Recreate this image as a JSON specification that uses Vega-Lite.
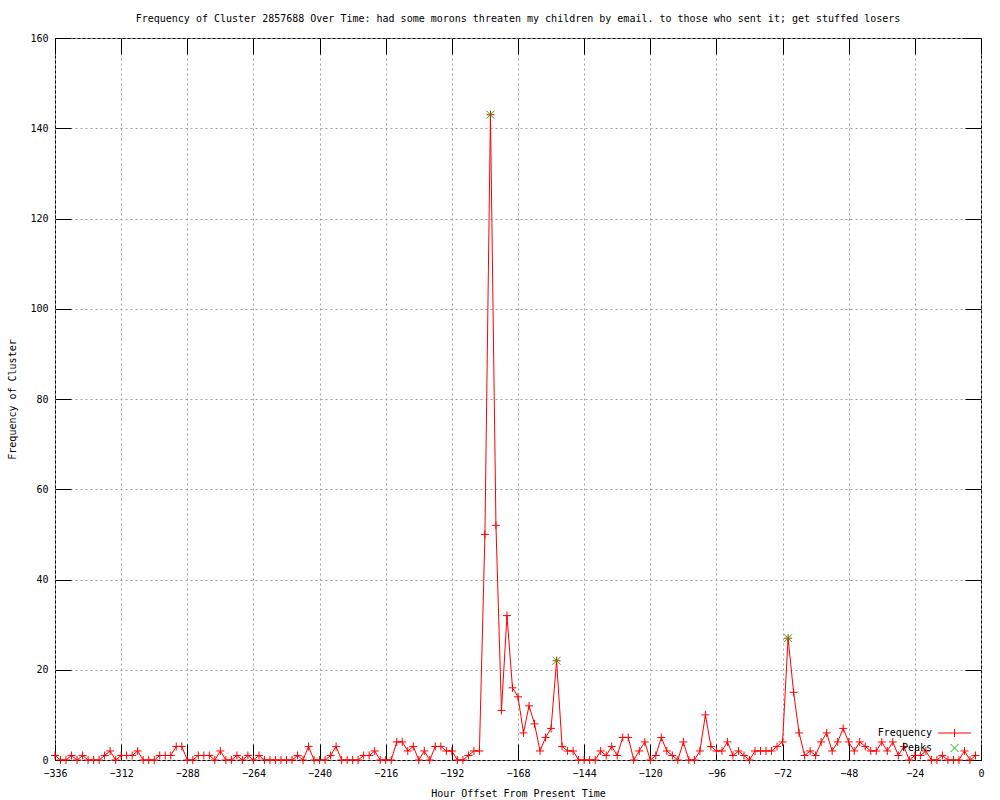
{
  "$schema": "https://vega.github.io/schema/vega-lite/v6.json",
  "width": 926,
  "height": 722,
  "autosize": {"type": "none"},
  "padding": {"left": 55, "top": 38, "right": 19, "bottom": 40},
  "background": "#ffffff",
  "title": {
    "text": "Frequency of Cluster 2857688 Over Time: had some morons threaten my children by email. to those who sent it; get stuffed losers",
    "anchor": "middle",
    "font": "DejaVu Sans Mono",
    "fontSize": 10,
    "fontWeight": "normal",
    "color": "#000000",
    "baseline": "middle",
    "offset": 4
  },
  "config": {
    "view": {"stroke": "#000000", "strokeWidth": 1},
    "axis": {
      "labelFont": "DejaVu Sans Mono",
      "labelFontSize": 10,
      "labelColor": "#000000",
      "titleFont": "DejaVu Sans Mono",
      "titleFontSize": 10,
      "titleFontWeight": "normal",
      "titleColor": "#000000",
      "tickColor": "#000000",
      "domain": false
    },
    "legend": {
      "labelFont": "DejaVu Sans Mono",
      "labelFontSize": 10,
      "labelColor": "#000000"
    }
  },
  "datasets": {
    "freq": [
      {"h": -336, "f": 1, "s": "Frequency"}, {"h": -334, "f": 0, "s": "Frequency"}, {"h": -332, "f": 0, "s": "Frequency"}, {"h": -330, "f": 1, "s": "Frequency"},
      {"h": -328, "f": 0, "s": "Frequency"}, {"h": -326, "f": 1, "s": "Frequency"}, {"h": -324, "f": 0, "s": "Frequency"}, {"h": -322, "f": 0, "s": "Frequency"},
      {"h": -320, "f": 0, "s": "Frequency"}, {"h": -318, "f": 1, "s": "Frequency"}, {"h": -316, "f": 2, "s": "Frequency"}, {"h": -314, "f": 0, "s": "Frequency"},
      {"h": -312, "f": 1, "s": "Frequency"}, {"h": -310, "f": 1, "s": "Frequency"}, {"h": -308, "f": 1, "s": "Frequency"}, {"h": -306, "f": 2, "s": "Frequency"},
      {"h": -304, "f": 0, "s": "Frequency"}, {"h": -302, "f": 0, "s": "Frequency"}, {"h": -300, "f": 0, "s": "Frequency"}, {"h": -298, "f": 1, "s": "Frequency"},
      {"h": -296, "f": 1, "s": "Frequency"}, {"h": -294, "f": 1, "s": "Frequency"}, {"h": -292, "f": 3, "s": "Frequency"}, {"h": -290, "f": 3, "s": "Frequency"},
      {"h": -288, "f": 0, "s": "Frequency"}, {"h": -286, "f": 0, "s": "Frequency"}, {"h": -284, "f": 1, "s": "Frequency"}, {"h": -282, "f": 1, "s": "Frequency"},
      {"h": -280, "f": 1, "s": "Frequency"}, {"h": -278, "f": 0, "s": "Frequency"}, {"h": -276, "f": 2, "s": "Frequency"}, {"h": -274, "f": 0, "s": "Frequency"},
      {"h": -272, "f": 0, "s": "Frequency"}, {"h": -270, "f": 1, "s": "Frequency"}, {"h": -268, "f": 0, "s": "Frequency"}, {"h": -266, "f": 1, "s": "Frequency"},
      {"h": -264, "f": 0, "s": "Frequency"}, {"h": -262, "f": 1, "s": "Frequency"}, {"h": -260, "f": 0, "s": "Frequency"}, {"h": -258, "f": 0, "s": "Frequency"},
      {"h": -256, "f": 0, "s": "Frequency"}, {"h": -254, "f": 0, "s": "Frequency"}, {"h": -252, "f": 0, "s": "Frequency"}, {"h": -250, "f": 0, "s": "Frequency"},
      {"h": -248, "f": 1, "s": "Frequency"}, {"h": -246, "f": 0, "s": "Frequency"}, {"h": -244, "f": 3, "s": "Frequency"}, {"h": -242, "f": 0, "s": "Frequency"},
      {"h": -240, "f": 0, "s": "Frequency"}, {"h": -238, "f": 0, "s": "Frequency"}, {"h": -236, "f": 1, "s": "Frequency"}, {"h": -234, "f": 3, "s": "Frequency"},
      {"h": -232, "f": 0, "s": "Frequency"}, {"h": -230, "f": 0, "s": "Frequency"}, {"h": -228, "f": 0, "s": "Frequency"}, {"h": -226, "f": 0, "s": "Frequency"},
      {"h": -224, "f": 1, "s": "Frequency"}, {"h": -222, "f": 1, "s": "Frequency"}, {"h": -220, "f": 2, "s": "Frequency"}, {"h": -218, "f": 0, "s": "Frequency"},
      {"h": -216, "f": 0, "s": "Frequency"}, {"h": -214, "f": 0, "s": "Frequency"}, {"h": -212, "f": 4, "s": "Frequency"}, {"h": -210, "f": 4, "s": "Frequency"},
      {"h": -208, "f": 2, "s": "Frequency"}, {"h": -206, "f": 3, "s": "Frequency"}, {"h": -204, "f": 0, "s": "Frequency"}, {"h": -202, "f": 2, "s": "Frequency"},
      {"h": -200, "f": 0, "s": "Frequency"}, {"h": -198, "f": 3, "s": "Frequency"}, {"h": -196, "f": 3, "s": "Frequency"}, {"h": -194, "f": 2, "s": "Frequency"},
      {"h": -192, "f": 2, "s": "Frequency"}, {"h": -190, "f": 0, "s": "Frequency"}, {"h": -188, "f": 0, "s": "Frequency"}, {"h": -186, "f": 1, "s": "Frequency"},
      {"h": -184, "f": 2, "s": "Frequency"}, {"h": -182, "f": 2, "s": "Frequency"}, {"h": -180, "f": 50, "s": "Frequency"}, {"h": -178, "f": 143, "s": "Frequency"},
      {"h": -176, "f": 52, "s": "Frequency"}, {"h": -174, "f": 11, "s": "Frequency"}, {"h": -172, "f": 32, "s": "Frequency"}, {"h": -170, "f": 16, "s": "Frequency"},
      {"h": -168, "f": 14, "s": "Frequency"}, {"h": -166, "f": 6, "s": "Frequency"}, {"h": -164, "f": 12, "s": "Frequency"}, {"h": -162, "f": 8, "s": "Frequency"},
      {"h": -160, "f": 2, "s": "Frequency"}, {"h": -158, "f": 5, "s": "Frequency"}, {"h": -156, "f": 7, "s": "Frequency"}, {"h": -154, "f": 22, "s": "Frequency"},
      {"h": -152, "f": 3, "s": "Frequency"}, {"h": -150, "f": 2, "s": "Frequency"}, {"h": -148, "f": 2, "s": "Frequency"}, {"h": -146, "f": 0, "s": "Frequency"},
      {"h": -144, "f": 0, "s": "Frequency"}, {"h": -142, "f": 0, "s": "Frequency"}, {"h": -140, "f": 0, "s": "Frequency"}, {"h": -138, "f": 2, "s": "Frequency"},
      {"h": -136, "f": 1, "s": "Frequency"}, {"h": -134, "f": 3, "s": "Frequency"}, {"h": -132, "f": 1, "s": "Frequency"}, {"h": -130, "f": 5, "s": "Frequency"},
      {"h": -128, "f": 5, "s": "Frequency"}, {"h": -126, "f": 0, "s": "Frequency"}, {"h": -124, "f": 2, "s": "Frequency"}, {"h": -122, "f": 4, "s": "Frequency"},
      {"h": -120, "f": 0, "s": "Frequency"}, {"h": -118, "f": 1, "s": "Frequency"}, {"h": -116, "f": 5, "s": "Frequency"}, {"h": -114, "f": 2, "s": "Frequency"},
      {"h": -112, "f": 1, "s": "Frequency"}, {"h": -110, "f": 0, "s": "Frequency"}, {"h": -108, "f": 4, "s": "Frequency"}, {"h": -106, "f": 0, "s": "Frequency"},
      {"h": -104, "f": 0, "s": "Frequency"}, {"h": -102, "f": 2, "s": "Frequency"}, {"h": -100, "f": 10, "s": "Frequency"}, {"h": -98, "f": 3, "s": "Frequency"},
      {"h": -96, "f": 2, "s": "Frequency"}, {"h": -94, "f": 2, "s": "Frequency"}, {"h": -92, "f": 4, "s": "Frequency"}, {"h": -90, "f": 1, "s": "Frequency"},
      {"h": -88, "f": 2, "s": "Frequency"}, {"h": -86, "f": 1, "s": "Frequency"}, {"h": -84, "f": 0, "s": "Frequency"}, {"h": -82, "f": 2, "s": "Frequency"},
      {"h": -80, "f": 2, "s": "Frequency"}, {"h": -78, "f": 2, "s": "Frequency"}, {"h": -76, "f": 2, "s": "Frequency"}, {"h": -74, "f": 3, "s": "Frequency"},
      {"h": -72, "f": 4, "s": "Frequency"}, {"h": -70, "f": 27, "s": "Frequency"}, {"h": -68, "f": 15, "s": "Frequency"}, {"h": -66, "f": 6, "s": "Frequency"},
      {"h": -64, "f": 1, "s": "Frequency"}, {"h": -62, "f": 2, "s": "Frequency"}, {"h": -60, "f": 1, "s": "Frequency"}, {"h": -58, "f": 4, "s": "Frequency"},
      {"h": -56, "f": 6, "s": "Frequency"}, {"h": -54, "f": 2, "s": "Frequency"}, {"h": -52, "f": 4, "s": "Frequency"}, {"h": -50, "f": 7, "s": "Frequency"},
      {"h": -48, "f": 4, "s": "Frequency"}, {"h": -46, "f": 2, "s": "Frequency"}, {"h": -44, "f": 4, "s": "Frequency"}, {"h": -42, "f": 3, "s": "Frequency"},
      {"h": -40, "f": 2, "s": "Frequency"}, {"h": -38, "f": 2, "s": "Frequency"}, {"h": -36, "f": 4, "s": "Frequency"}, {"h": -34, "f": 2, "s": "Frequency"},
      {"h": -32, "f": 4, "s": "Frequency"}, {"h": -30, "f": 1, "s": "Frequency"}, {"h": -28, "f": 3, "s": "Frequency"}, {"h": -26, "f": 0, "s": "Frequency"},
      {"h": -24, "f": 1, "s": "Frequency"}, {"h": -22, "f": 1, "s": "Frequency"}, {"h": -20, "f": 2, "s": "Frequency"}, {"h": -18, "f": 0, "s": "Frequency"},
      {"h": -16, "f": 0, "s": "Frequency"}, {"h": -14, "f": 1, "s": "Frequency"}, {"h": -12, "f": 0, "s": "Frequency"}, {"h": -10, "f": 0, "s": "Frequency"},
      {"h": -8, "f": 0, "s": "Frequency"}, {"h": -6, "f": 2, "s": "Frequency"}, {"h": -4, "f": 0, "s": "Frequency"}, {"h": -2, "f": 1, "s": "Frequency"}
    ],
    "peaks": [
      {"h": -178, "f": 143, "s": "Peaks"},
      {"h": -154, "f": 22, "s": "Peaks"},
      {"h": -70, "f": 27, "s": "Peaks"}
    ]
  },
  "layer": [
    {
      "data": {"name": "freq"},
      "mark": {"type": "line", "color": "#ff0000", "strokeWidth": 1, "interpolate": "linear"},
      "encoding": {
        "x": {
          "field": "h", "type": "quantitative",
          "scale": {"domain": [-336, 0], "nice": false, "zero": false},
          "axis": {
            "values": [-336, -312, -288, -264, -240, -216, -192, -168, -144, -120, -96, -72, -48, -24, 0],
            "title": "Hour Offset From Present Time",
            "titleX": 463, "titleY": 33, "titleBaseline": "middle", "titleAnchor": "middle",
            "tickSize": -16, "labelPadding": 24, "labelFlush": false,
            "grid": true, "gridColor": "#a0a0a0", "gridDash": [2, 3], "gridWidth": 1
          }
        },
        "y": {
          "field": "f", "type": "quantitative",
          "scale": {"domain": [0, 160], "nice": false},
          "axis": {
            "values": [0, 20, 40, 60, 80, 100, 120, 140, 160],
            "title": "Frequency of Cluster",
            "titleX": -43, "titleY": 361, "titleAngle": -90, "titleBaseline": "middle", "titleAnchor": "middle",
            "tickSize": -16, "labelPadding": 23, "labelFlush": false,
            "grid": true, "gridColor": "#a0a0a0", "gridDash": [2, 3], "gridWidth": 1
          }
        }
      }
    },
    {
      "data": {"name": "freq"},
      "mark": {"type": "point", "filled": false, "strokeWidth": 1, "size": 64, "opacity": 1, "color": "#ff0000", "shape": "M-1,0H1M0,-1V1"},
      "encoding": {
        "x": {
          "field": "h", "type": "quantitative",
          "axis": {"orient": "top", "labels": false, "title": null, "grid": false, "tickSize": -16,
                   "values": [-336, -312, -288, -264, -240, -216, -192, -168, -144, -120, -96, -72, -48, -24, 0]}
        },
        "y": {
          "field": "f", "type": "quantitative",
          "axis": {"orient": "right", "labels": false, "title": null, "grid": false, "tickSize": -16,
                   "values": [0, 20, 40, 60, 80, 100, 120, 140, 160]}
        }
      }
    },
    {
      "data": {"name": "peaks"},
      "mark": {"type": "point", "filled": false, "strokeWidth": 1, "size": 64, "opacity": 1},
      "encoding": {
        "x": {"field": "h", "type": "quantitative", "axis": null},
        "y": {"field": "f", "type": "quantitative", "axis": null},
        "shape": {
          "field": "s", "type": "nominal",
          "scale": {"domain": ["Frequency", "Peaks"], "range": ["M-4.1,0H4.1M0,-1V1", "M-1,-1L1,1M-1,1L1,-1"]},
          "legend": {
            "orient": "none", "legendX": 894.5, "legendY": 690, "title": null, "padding": 0,
            "labelAlign": "right", "labelOffset": -27.5, "symbolSize": 64, "rowPadding": 3,
            "symbolStrokeWidth": 1
          }
        },
        "color": {
          "field": "s", "type": "nominal",
          "scale": {"domain": ["Frequency", "Peaks"], "range": ["#ff0000", "#00c000"]},
          "legend": {
            "orient": "none", "legendX": 894.5, "legendY": 690, "title": null, "padding": 0,
            "labelAlign": "right", "labelOffset": -27.5, "symbolSize": 64, "rowPadding": 3,
            "symbolStrokeWidth": 1
          }
        }
      }
    }
  ],
  "resolve": {"axis": {"x": "independent", "y": "independent"}}
}
